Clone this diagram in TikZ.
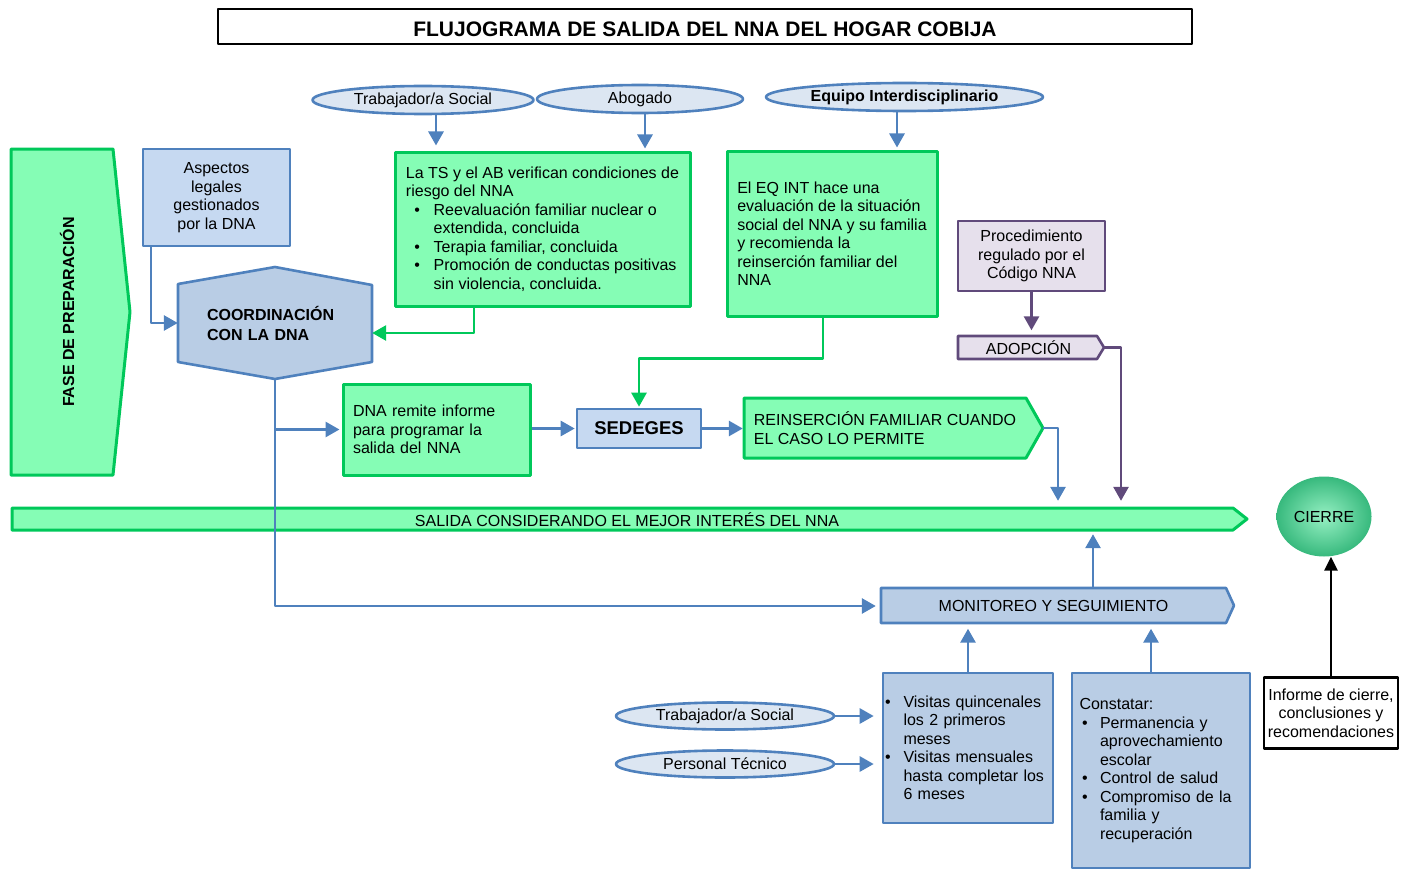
\documentclass[tikz,border=0pt]{standalone}
\usepackage{fontspec}
\setmainfont{Liberation Sans}
\usetikzlibrary{arrows.meta,shapes.geometric,positioning,calc}
\definecolor{azul}{RGB}{79,129,189}
\definecolor{azulclaro}{RGB}{220,230,242}
\definecolor{celeste}{RGB}{198,217,241}
\definecolor{azulgris}{RGB}{185,205,229}
\definecolor{verde}{RGB}{133,253,181}
\definecolor{verdeborde}{RGB}{0,200,90}
\definecolor{lila}{RGB}{230,224,236}
\definecolor{morado}{RGB}{96,74,123}
\definecolor{menta}{RGB}{150,240,195}
\definecolor{mentaosc}{RGB}{55,185,125}
\newcommand{\vin}[2]{\makebox[#2][l]{\hspace*{#1}\textbullet}}

\begin{document}
\begin{tikzpicture}[line join=round,>={Triangle[width=15pt,length=14pt]},x=1pt,y=-1pt,
  font=\fontsize{16}{18.5}\selectfont,
  caja/.style={draw=azul,line width=2.6pt,fill=#1,inner sep=0pt},
  cajaverde/.style={draw=verdeborde,line width=3pt,fill=verde,inner sep=0pt},
  cajalila/.style={draw=morado,line width=2.6pt,fill=lila,inner sep=0pt},
  elipse/.style={ellipse,draw=azul,line width=2.6pt,fill=azulclaro,inner sep=0pt,minimum height=28pt,minimum width=#1},
  negrita/.style={font=\fontsize{16}{20}\selectfont\bfseries},
  flecha/.style={->,color=azul,line width=2.8pt},
  flechaverde/.style={->,color=verdeborde,line width=2.8pt},
  flechalila/.style={->,color=morado,line width=2.8pt},
  flechanegra/.style={->,color=black,line width=2.8pt,>={Triangle[width=13pt,length=14pt]}}]
\useasboundingbox (0,0) rectangle (1410,872);
% titulo
\node[draw,line width=2.2pt,minimum width=974pt,minimum height=35pt,text height=20pt,font=\fontsize{21}{24}\selectfont\bfseries] (titulo) at (705,26.5) {FLUJOGRAMA DE SALIDA DEL NNA DEL HOGAR COBIJA};
% responsables
\node[elipse=221pt] (ts) at (423,100) {Trabajador/a Social};
\node[elipse=206pt] (abogado) at (640,99) {Abogado};
\node[elipse=277pt,negrita] (equipo) at (904.5,97) {Equipo Interdisciplinario};
% fase de preparacion
\draw[cajaverde] (11,149) -- (113,149) -- (130,312) -- (113,475) -- (11,475) -- cycle;
\node[rotate=90,negrita] (fase) at (67,312) {FASE DE PREPARACIÓN};
\node[caja=celeste,minimum width=147pt,minimum height=97pt,align=center] (aspectos) at (216.5,197.5) {Aspectos\\legales\\gestionados\\por la DNA};
\draw[caja=azulgris] (275,267) -- (372,285) -- (372,362) -- (275,379) -- (178,362) -- (178,284) -- cycle;
\node[minimum height=112pt,text width=136pt,inner xsep=29pt,align=left,negrita] (coord) at (275,323) {COORDINACIÓN\\CON LA DNA};
\node[cajaverde,minimum width=295pt,minimum height=154pt,align=left] (verif) at (542.5,229) {La TS y el AB verifican condiciones de\\riesgo del NNA\\\vin{8.5pt}{27.7pt}Reevaluación familiar nuclear o\\\hspace*{27.7pt}extendida, concluida\\\vin{8.5pt}{27.7pt}Terapia familiar, concluida\\\vin{8.5pt}{27.7pt}Promoción de  conductas positivas\\\hspace*{27.7pt}sin violencia, concluida.};
\node[cajaverde,minimum width=210pt,minimum height=165pt,align=left] (evalua) at (832,233.5) {El EQ INT hace una\\evaluación de la situación\\social del NNA y su familia\\y recomienda la\\reinserción familiar del\\NNA};
\node[cajalila,minimum width=147pt,minimum height=70pt,align=center] (proc) at (1031.5,256) {Procedimiento\\regulado por el\\Código NNA};
\draw[cajalila] (958,336) -- (1097,336) -- (1104,347.5) coordinate (adopP) -- (1097,359) -- (958,359) -- cycle;
\node[minimum width=139pt,minimum height=23pt,inner sep=0pt] (adopcion) at (1028.5,348) {ADOPCIÓN};
% salida
\node[cajaverde,minimum height=91pt,text width=167pt,inner xsep=10pt,align=left] (remite) at (436.5,429.5) {DNA remite informe\\para programar la\\salida del NNA};
\node[caja=celeste,minimum width=124pt,minimum height=39pt,font=\fontsize{18.5}{20}\selectfont\bfseries] (sedeges) at (639,428.5) {SEDEGES};
\draw[cajaverde] (744,398) -- (1026,398) -- (1043,428) coordinate (reinsP) -- (1026,458) -- (744,458) -- cycle;
\node[minimum width=282pt,minimum height=60pt,inner sep=0pt,align=left] (reins) at (885,428) {REINSERCIÓN FAMILIAR CUANDO\\EL CASO LO PERMITE};
\draw[cajaverde] (12,508) -- (1233,508) -- (1247,519) -- (1233,530) -- (12,530) -- cycle;
\node[minimum width=1230pt,minimum height=22pt,inner sep=0pt] (salida) at (627,520) {SALIDA CONSIDERANDO EL MEJOR INTERÉS DEL NNA};
\node[ellipse,minimum width=95pt,minimum height=80pt,inner color=menta,outer color=mentaosc] (cierre) at (1324,516.5) {CIERRE};
% seguimiento
\draw[caja=azulgris] (881,588) -- (1226,588) -- (1234,605.5) -- (1226,623) -- (881,623) -- cycle;
\node[minimum width=345pt,minimum height=35pt,inner sep=0pt] (moni) at (1053.5,606) {MONITOREO Y SEGUIMIENTO};
\node[caja=azulgris,minimum height=150pt,text width=166pt,inner xsep=2pt,align=left] (visitas) at (968,748) {\vin{0pt}{18.5pt}Visitas quincenales\\\hspace*{18.5pt}los 2 primeros\\\hspace*{18.5pt}meses\\\vin{0pt}{18.5pt}Visitas mensuales\\\hspace*{18.5pt}hasta completar los\\\hspace*{18.5pt}6 meses};
\node[caja=azulgris,minimum height=195pt,text width=163pt,inner xsep=7.5pt,align=left] (constatar) at (1161,770.5) {Constatar:\\\vin{2.5pt}{20.5pt}Permanencia y\\\hspace*{20.5pt}aprovechamiento\\\hspace*{20.5pt}escolar\\\vin{2.5pt}{20.5pt}Control de salud\\\vin{2.5pt}{20.5pt}Compromiso de la\\\hspace*{20.5pt}familia y\\\hspace*{20.5pt}recuperación};
\node[elipse=218pt,minimum height=27pt] (ts2) at (725,716) {Trabajador/a Social};
\node[elipse=218pt,minimum height=27pt] (personal) at (725,764) {Personal Técnico};
\node[draw,line width=2.2pt,fill=white,minimum width=134pt,minimum height=71pt,inner sep=0pt,align=center] (informe) at (1331,713) {Informe de cierre,\\conclusiones y\\recomendaciones};
% conectores
\draw[flecha,shorten >=5pt] ($(ts.south)+(13,0)$) -- ($(ts.south |- verif.north)+(13,0)$);
\draw[flecha,shorten >=2pt] ($(abogado.south)+(5,0)$) -- ($(abogado.south |- verif.north)+(5,0)$);
\draw[flecha,shorten >=2pt] ($(equipo.south)+(-7.5,0)$) -- ($(equipo.south |- evalua.north)+(-7.5,0)$);
\draw[flecha] ($(aspectos.south)+(-65.5,0)$) |- (coord.west);
\draw[flechaverde] ($(verif.south)+(-68.5,0)$) |- ($(coord.east)+(0,10)$);
\draw[flecha,shorten >=5pt] (coord.south) |- (moni.west);
\draw[flecha,shorten >=2pt] (coord.south |- remite.west) -- (remite.west);
\draw[flecha,shorten >=1pt] (remite.east |- sedeges.west) -- (sedeges.west);
\draw[flechaverde,shorten >=1pt] ($(evalua.south)+(-9,0)$) -- ($(evalua.south)+(-9,41)$) -| (sedeges.north);
\draw[flecha,shorten >=1pt] (sedeges.east) -- (sedeges.east -| reins.west);
\draw[flecha,shorten >=8pt] (reinsP) -- ($(reinsP)+(15,0)$) -- ($(reinsP |- salida.north)+(15,0)$);
\draw[flechalila,shorten >=6pt] (proc.south) -- (proc.south |- adopcion.north);
\draw[flechalila,shorten >=8pt] (adopP) -- ($(adopP)+(17,0)$) -- ($(adopP |- salida.north)+(17,0)$);
\draw[flecha,shorten >=3pt] ($(moni.north)+(39.5,0)$) -- ($(moni.north |- salida.south)+(39.5,0)$);
\draw[flecha,shorten >=5pt] (visitas.north) -- (visitas.north |- moni.south);
\draw[flecha,shorten >=5pt] ($(constatar.north)+(-10,0)$) -- ($(constatar.north |- moni.south)+(-10,0)$);
\draw[flecha,shorten >=8pt] (ts2.east) -- (ts2.east -| visitas.west);
\draw[flecha,shorten >=8pt] (personal.east) -- (personal.east -| visitas.west);
\draw[flechanegra] (informe.north) -- (informe.north |- cierre.south);
\end{tikzpicture}
\end{document}
